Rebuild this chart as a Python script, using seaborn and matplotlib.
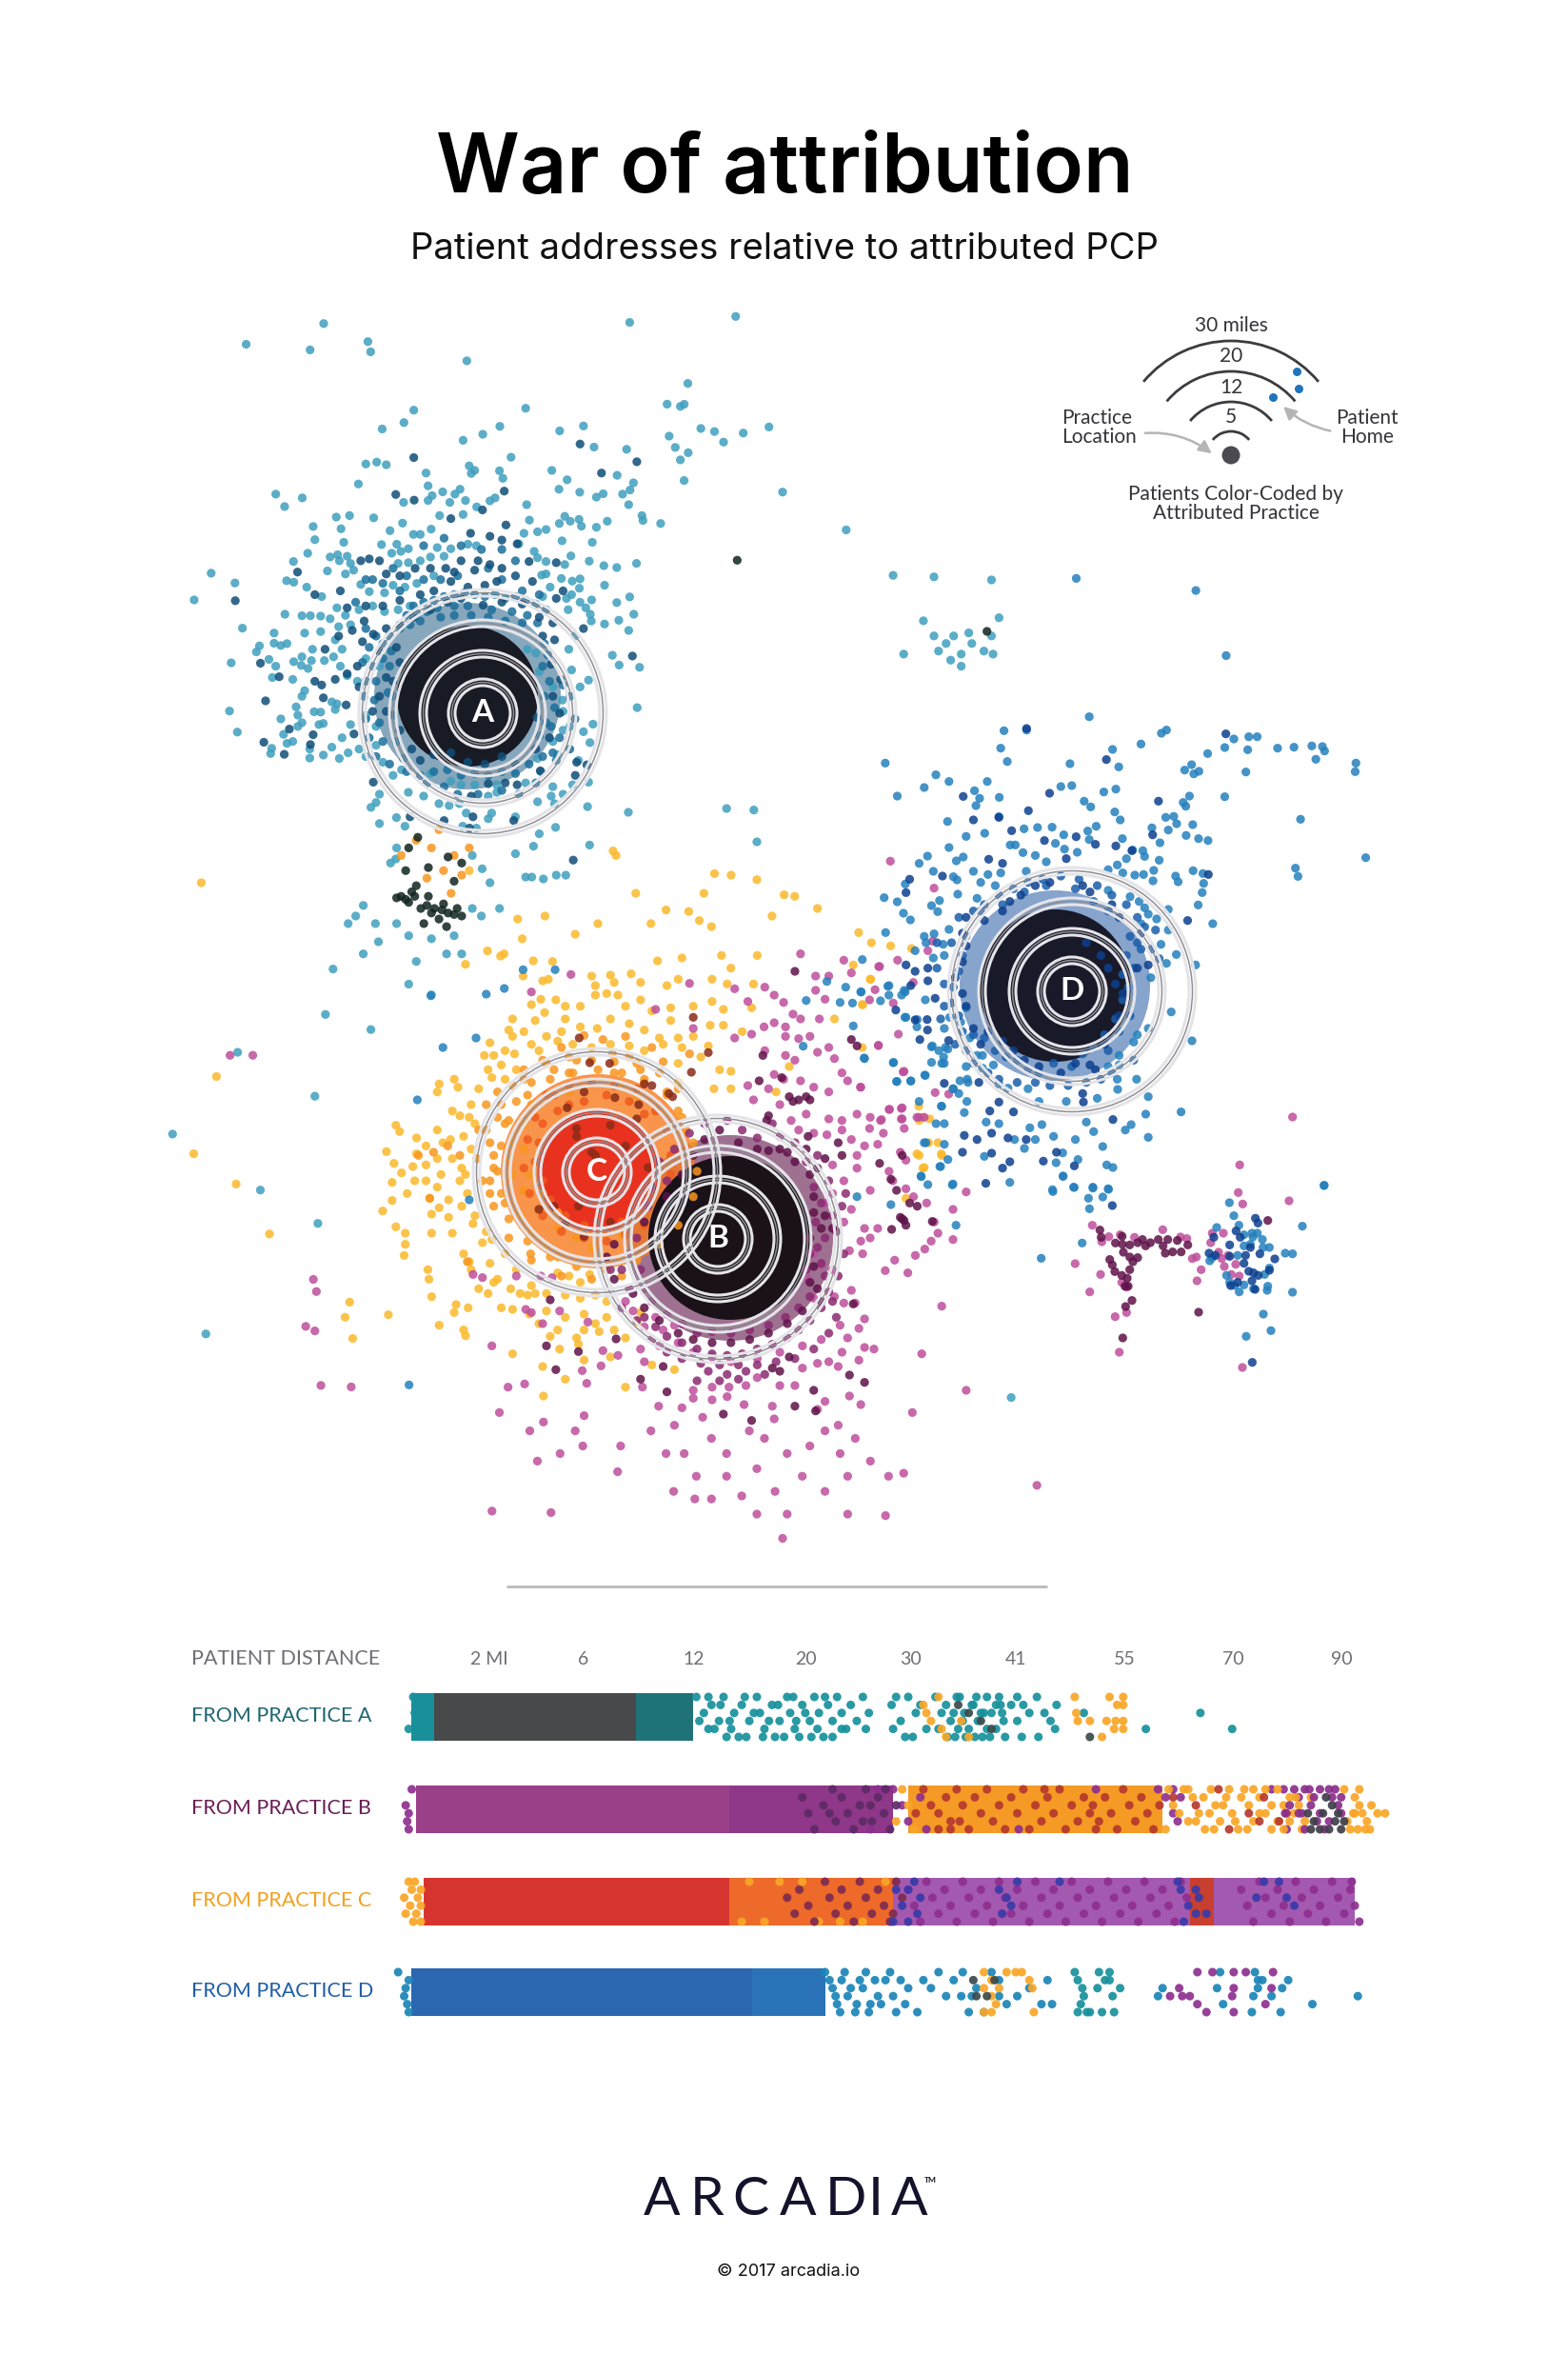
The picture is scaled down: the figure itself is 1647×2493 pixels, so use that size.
import numpy as np
import pandas as pd
import seaborn as sns
from matplotlib import pyplot as plt
from matplotlib.patches import Arc, Circle, FancyArrowPatch

# puntos leidos a ojo de la imagen, cada lista en las unidades del recorte donde se leyo
A_LIGHT = [(248,105),(476,50),(436,120),(606,98),(614,125),(897,149),(1376,47),(1547,209),(1486,264),(1525,270),(741,280),(1070,275),(712,313),(648,330),(994,323),(944,344),(886,360),(1170,335),(1240,322),(1271,378),(1367,384),(1492,349),(1510,379),(1548,393),(1525,412),(1536,467),(1027,405),(904,428),(920,440),(910,448),(993,441),(1003,461),(777,447),(600,423),(632,418),(660,425),(1147,440),(1192,465),(1339,453),(1387,473),(1377,492),(1355,503),(1298,502),(1278,511),(1229,498),(1168,490),(578,476),(783,481),(826,497),(795,507),(783,520),(711,525),(877,490),(862,503),(847,525),(893,520),(980,513),(965,521),(926,537),(1073,531),(1373,531),(335,503),(413,513),(361,536),(1412,560),(1415,573),(1467,581),(513,564),(552,560),(623,566),(445,589),(708,580),(527,595),(817,560),(886,557),(1185,562),(1227,570),(1169,581),(1201,575),(1234,588),(1278,591),(1310,575),(1081,572),(671,600),(450,624),(535,631),(792,596),(740,610),(760,610),(1105,603),(1130,597),(1177,627),(1266,631),(429,660),(646,637),
    (495,670),(517,664),(545,668),(522,680),(555,687),(387,682),(487,707),(564,705),(691,636),(676,660),(703,655),(725,648),(695,687),(725,685),(760,680),(810,645),(790,670),(830,668),(850,648),(900,636),(925,640),(1050,635),(1065,607),(1095,655),(1105,672),(1130,682),(1185,690),(1203,667),(1257,681),(1300,693),(1338,698),(1396,687),(145,713),(215,739),(367,733),(388,737),(426,750),(470,775),(540,715),(585,743),(610,762),(655,765),(680,745),(715,750),(750,740),(800,720),(1130,715),(1175,727),(1207,734),(1230,728),(1228,753),(1302,745),(1142,750),(1117,718),(1120,775),(1205,770),(1264,784),(1338,791),(1376,776),(95,784),(1190,780),
    (362,822),(412,826),(437,826),(467,827),(495,834),(515,805),(540,825),(580,810),(620,800),(655,815),(695,810),(730,800),(237,859),(1230,790),(1247,805),(1260,822),(1263,840),(1195,810),(1388,822),(1344,838),(1302,848),(1373,865),(330,872),(420,872),(467,868),(520,855),(555,850),(287,906),(278,922),(330,899),(350,905),(368,900),(443,915),(478,945),(440,945),(412,935),(388,948),(410,958),(430,966),(315,942),(204,951),(335,960),(325,990),(385,995),(510,890),(530,915),(505,935),(525,960),(545,985),(575,1000),(600,940),(640,960),(1197,915),(1215,880),(1325,931),(1345,957),(1405,963),(1255,997),(1230,1015),(1150,1015),(1100,925),(1075,915),(1110,975),(1205,970),
    (420,1025),(412,1040),(500,1055),(515,1060),(395,1068),(400,1090),(448,1081),(467,1082),(510,1075),(350,1100),(412,1110),(400,1120),(462,1115),(475,1112),(555,1115),(199,1079),(222,1135),(358,1141),(385,1160),(368,1165),(323,1178),(320,1192),(435,1180),(435,1204),(475,1196),(500,1175),(522,1205),(548,1190),(580,1180),(530,1150),(600,1090),(630,1120),(1398,1070),(1268,1114),(1240,1134),(1180,1130),(1200,1120),(1259,1163),(1178,1050),(1180,1080),(1150,1160),(1165,1195),(600,1200),(650,1215),(630,1170),(680,1250),(705,1235),(790,1245),(725,1295),(770,1305),(640,1300),(630,1322),(615,1335),(850,1265),(880,1275),(920,1275),(1070,1270),(985,1275),(815,1325),(845,1330),(875,1325),(960,1305),(985,1295),(1105,1205),(1115,1240),(1150,1280),(1180,1300),(1145,1305),(1155,1325),(1105,1320),(1252,1333),(1372,1348),(1208,1275),(1255,1268),(1225,1210),(690,1362),(715,1385),(640,1378),(895,1350),(885,1385),(970,1350),(960,1365),(925,1390),(1040,1360),(1110,1405),(1158,1388),(1258,1435),(1093,1438),(1040,1458),(1070,1520),(1088,1520),(1122,1525),(1160,1515),(1188,1515),(942,1498),(965,1535),(688,1472)]
A_MID = [(740,800),(770,790),(800,785),(830,775),(860,770),(890,765),(920,770),(950,775),(980,770),(1010,780),(1040,775),(1070,785),(1100,795),(1130,810),(720,825),(750,820),(780,815),(810,805),(860,800),(900,800),(970,810),(1030,815),(1075,825),(1105,845),(700,860),(730,850),(760,840),(820,830),(860,825),(910,825),(960,830),(1010,840),(1060,845),(600,860),(630,880),(670,880),(610,910),(650,900),(675,920),(590,950),(620,960),(650,940),(670,960),(600,1000),(630,1000),(680,1040),(595,1040),(625,1050),(665,1030),(600,1100),(640,1110),(680,1090),(610,1150),(650,1160),(690,1160),(630,1200),(670,1220),(710,1205),(720,1240),(760,1250),(800,1240),(840,1235),(880,1250),(920,1245),(960,1250),(1000,1240),(1040,1245),(1080,1220),(1120,1200),(1150,1190),(780,1270),(830,1280),(870,1300),(930,1300),(1000,1290),(1050,1300),(1100,1270),(1125,900),(1135,930),(1120,960),(1140,1000),(1125,1040),(1155,1070),(1130,1110),(1110,1145),(1145,1120),(1170,1150),(1180,1010),(1200,1040),(1215,1100),(1160,1210),(1200,1180),(700,760),(650,740),(620,730),(570,790),(680,700),(770,640),(830,620),(880,640),(940,650),(1000,650),(1040,680),(870,720),(820,730),(770,730),(1000,730),(1060,760),(1110,770),(960,700),(720,720),(600,730)]
A_DARK = [(741,406),(1230,370),(1293,447),(1397,417),(1007,495),(688,504),(742,519),(943,545),(850,568),(908,607),(1012,585),(965,615),(1000,625),(1045,635),(1080,682),(880,680),(930,680),(965,690),(920,705),(860,710),(835,700),(790,700),(745,700),(700,720),(660,715),(585,680),(610,675),(640,680),(525,760),(450,770),(216,786),(399,710),(1160,685),(1160,780),(1180,760),(1090,735),(1040,720),(1000,700),(985,735),(950,745),(900,750),(850,735),(800,760),(760,770),(700,785),(650,800),(600,800),(545,805),(595,840),(560,865),(520,880),(622,875),(590,895),(660,860),(700,850),(740,830),(790,810),(840,790),(880,780),(945,798),(1000,790),(1060,795),(1110,830),(1150,845),(1155,890),(1120,880),(1240,860),(1384,933),(1145,955),(1173,995),(480,915),(290,952),(345,988),(450,1000),(470,1010),(510,995),(545,980),(305,1052),(475,1044),(542,1063),(375,1127),(445,1142),(565,1140),(300,1162),(437,1168),(360,1194),(575,960),(580,1015),(640,920),(690,910),(700,950),(660,990),(640,1040),(620,1080),(660,1080),(700,1130),(680,1000),(735,1180),(760,1210),(800,1195),(850,1190),(900,1215),(950,1220),(1000,1200),(1040,1220),(1100,1180),(1140,1150),(1103,1096),(1150,1040),(1170,1085),(1220,1215),(1250,1222),(1216,1250),(622,1268),(910,1305),(960,1272),(1010,1270),(1045,1275),(1113,1238),(1035,1370),(915,1360),(905,1390),(830,1370),(730,1360),(1210,1475)]

C_YELLOW = [(318,12),(405,27),(225,38),(378,75),(430,90),(445,85),(560,75),(610,72),(665,68),(690,95),(735,27),(800,18),(905,10),(930,50),(1000,10),(880,85),(920,100),(990,100),(620,95),(570,105),(760,105),(790,85),(400,165),(425,148),(465,150),(490,170),(435,190),(410,215),(490,210),(530,170),(570,135),(600,130),(630,135),(650,170),(690,150),(720,185),(770,175),(770,215),(830,170),(880,155),(910,180),(985,175),(875,230),(910,230),(960,250),(340,245),(350,265),(290,285),(300,325),(275,325),(330,310),(355,320),(320,355),(360,370),(285,370),(295,395),(400,290),(440,265),(480,250),(530,235),(575,240),(610,210),(660,225),(700,245),(740,270),(790,270),(830,265),(870,295),(790,350),(900,370),(930,375),(790,410),(885,430),(930,430),(155,415),(195,400),(150,440),(205,425),(190,500),(210,515),(235,520),(40,545),(50,565),(95,585),(120,610),(165,600),(185,590),(95,635),(15,628),(35,665),(55,695),(85,675),(120,670),(150,650),(190,650),(215,680),(30,725),(210,720),(150,740),(30,782),(5,815),(130,775),(155,805),(135,825),(180,835),(215,800),(40,865),(65,885),(135,885),(65,920),(62,955),(190,885),(245,855),(270,915),(220,950),(295,905),(235,975),(290,980),(125,1000),(128,1030),(135,1085),(200,1110),(195,1135),(232,1120),(20,1142),(155,1175),(220,1190),(225,1208),(320,1120),(350,1125),(345,1060),(370,1075),(390,1080),(410,1075),(285,1075),(470,1010),(500,1020),(530,1040),(555,1015),(395,1140),(440,1130),(490,1150),(540,1140),(570,1170),(450,1210),(520,1215),(525,1235),(580,1195),(650,1215),(610,1275),(350,1265),(475,1250),(430,1305),(490,1345),(650,1370),(432,1398),(540,1285),(720,1300),(780,1315),(690,1135),(680,1165),
    (350,210),(380,250),(420,310),(470,280),(510,290),(560,300),(610,290),(660,295),(700,310),(750,290),(800,300),(850,330),(330,400),(260,430),(240,480),(250,540),(220,580),(240,620),(225,700),(230,760),(250,830),(280,880),(330,950),(360,1000),(310,1030),(400,1050),(440,1075),(490,1080),(530,1090),(570,1080),(600,1100),(420,1170),(470,1190),(540,1190),(600,1150),(620,1190),(150,560),(120,720),(90,720),(70,760),(160,700),(180,780),(240,1000),(260,1060),(300,1040)]
C_ORANGE = [(540,262),(590,275),(650,265),(480,300),(430,340),(380,370),(350,420),(310,440),(280,480),(310,520),(260,560),(290,600),(255,650),(300,680),(270,720),(290,760),(330,790),(370,830),(400,880),(440,930),(470,960),(398,950),(230,975),(130,775),(210,640),(178,610),(140,630),(100,640),(615,320),(660,330),(720,300),(750,345),(820,320),(690,370),(520,340),(460,370),(400,410),(360,470),(330,540),(350,600),(340,650),(350,700),(380,750),(420,810),(470,870),(520,900),(560,930),(640,890),(700,860),(640,420),(700,410),(760,440),(790,500),(810,560),(400,480),(380,540),(380,620),(395,700),(430,760),(470,820),(500,440),(560,410),(620,380),(680,450),(500,380),
    (577,370),(640,380),(700,400),(760,450),(800,520),(830,600),(840,690),(830,770),(790,860),(740,920),(680,970),(600,1000),(520,990),(450,960),(390,910),(340,840),(320,760),(310,690),(320,610),(340,530),(390,450),(450,400),(510,380),(560,340),(620,345),(680,350),(740,380),(790,430),(300,640),(290,720),(300,800),(340,900),(400,970),(480,1020),(560,1030),(640,1020),(280,560),(320,480),(380,400),(440,350),(500,330)]
C_DEEP = [(440,450),(500,480),(540,470),(600,450),(660,470),(700,510),(430,540),(420,600),(410,660),(430,720),(450,780),(490,830),(540,860),(590,880),(640,850),(680,820),(470,500),(620,510),(460,450),(410,520),(390,590),(380,680),(395,760),(430,830),(480,880),(540,900),(600,910),(650,890),(700,860),(500,420),(560,410),(620,420),(680,430),(730,500),(760,560),(770,640),(770,700)]
C_BROWN = [(527,270),(555,348),(608,350),(540,440),(622,458),(495,490),(520,555),(520,580),(610,545),(685,480),(680,525),(650,610),(560,630),(570,640),(710,678),(525,800),(460,800),(420,810),(490,855),(610,850),(540,895),(720,420),(700,415),(765,445),(775,455),(825,378),(870,316),(830,205)]
B_LIGHT = [(505,70),(400,125),(820,98),(730,180),(940,115),(1115,5),(1230,25),(1325,45),(1155,75),(1190,75),(1250,65),(1045,135),(1070,158),(1020,110),(975,155),(1155,120),(1180,148),(1095,195),(1115,210),(1165,210),(1045,222),(1018,235),(1075,235),(985,258),(1140,265),(1110,272),(1075,265),(1322,293),(1190,300),(1205,335),(1160,315),(1075,325),(1100,340),(1020,310),(830,240),(940,270),(1045,385),(1070,400),(975,420),(1030,430),(1115,405),(1150,425),(1190,440),(1225,380),(1275,425),(1240,405),(1390,375),(1350,495),(1385,490),(1430,520),(1265,510),(1300,520),(1330,527),(1385,525),(1225,530),(1190,525),(1130,510),(1090,530),(1110,560),(990,465),(1060,480),(1150,570),(1185,575),(1225,560),(1250,590),(1285,610),(1320,605),(1335,570),(1380,630),(1395,655),(1265,640),(1265,680),(1300,750),(1350,690),(1360,720),(1395,745),(1415,770),(1520,810),(1555,755),(1450,790),(1470,850),(1480,885),(1520,905),(1285,870),(1320,870),(1275,910),(1300,900),(1245,940),(1280,950),(1365,970),(1340,1003),(1400,1010),(1420,955),(1445,935),(1462,910),(1200,670),(1230,720),(1200,760),(1180,790),(1250,810),(1230,850),(1150,950),(1170,985),(1200,1000),(1135,1030),(1250,1065),(1260,1105),(1230,1105),(1285,1155),(1270,1185),(1490,1115),(1205,1085),(1150,1090),(1240,1215),(1220,1175),(1285,1245),(1310,1250),(1225,1260),(1270,1285),(1215,1305),(1437,1265),(1412,1450),(1555,1380),(1275,1425),(1245,1398),(1190,1290),(1160,1295),(1120,1310),(1100,1365),(1060,1365),(1000,1340),(970,1365),(925,1370),(880,1370),(830,1380),(738,1430),(800,1435),(830,1405),(880,1410),(920,1400),(965,1425),(1040,1430),(1160,1440),(1180,1415),(855,1465),(780,1490),(1045,1470),(1215,1490),(315,1450),(432,1480),(540,1460),(338,1370),(382,1360),(547,1358),(535,1318),(585,1303),(695,1370),(295,1240),(245,1015),(270,1025),(360,1020),(425,1020),(455,1025),(385,1125),(400,1135),(430,1170),(475,1130),(550,1165),(590,1255),(630,1270),(690,1250),(700,1290),(740,1240),(790,1230),(830,1260),(880,1275),(930,1290),(1000,1280),(1060,1260),(1120,1240),(1170,1220),(700,1180),(750,1190),(650,1100),(670,1130),(730,1150),(780,1175)]
B_MID = [(700,1150),(730,1180),(760,1210),(800,1230),(840,1250),(880,1265),(920,1270),(960,1265),(1000,1250),(1040,1235),(1080,1215),(1110,1190),(1140,1160),(1170,1120),(1190,1070),(1180,1020),(1170,980),(1160,930),(1180,900),(1155,850),(1200,830),(1170,790),(1150,740),(1190,720),(1130,660),(1160,640),(1100,600),(1060,580),(1000,585),(1040,540),(960,560),(920,530),(860,540),(820,570),(780,620),(740,660),(760,720),(720,740),(710,800),(680,900),(660,950),(690,1000),(640,1000),(660,1060),(700,1060),(720,1100),(760,1140),(800,1170),(840,1200),(880,1195),(930,1200),(980,1190),(1030,1175),(1075,1150),(1110,1120),(1140,1085),(1130,1000),(1140,950),(610,1000),(640,1120),(680,1160),(720,1220),(760,1260),(800,1280),(850,1295),(900,1300),(950,1300),(1000,1300),(1050,1290),(1100,1280),(1150,1250),(1190,1200),(1210,1150),(1200,1100),(1215,1020),(1230,950),(1210,880),(1225,800),(1235,760),(870,1320),(920,1330),(970,1320),(1020,1330),(840,1350),(900,1350),(950,1345)]
B_DARK = [(1100,60),(1250,275),(1265,295),(1015,325),(1065,395),(1005,405),(1085,455),(1110,465),(1130,455),(1140,465),(1095,470),(1030,515),(1025,530),(1135,580),(1215,600),(1060,620),(1030,625),(1080,630),(1100,660),(1160,680),(1180,650),(1225,640),(1325,665),(1385,640),(1355,715),(1370,750),(1390,845),(1380,835),(1395,860),(1405,790),(1425,800),(1465,848),(1150,820),(1180,830),(1170,870),(1200,870),(1140,900),(1150,990),(1140,1040),(1160,1060),(1170,1100),(1120,1130),(1080,1170),(1030,1200),(980,1220),(930,1230),(880,1230),(830,1220),(790,1200),(740,1160),(700,1120),(670,1075),(620,1030),(600,960),(620,920),(700,850),(760,770),(800,700),(830,640),(860,590),(900,560),(950,600),(1000,620),(1130,620),(1140,700),(1150,770),(1085,1275),(1040,1310),(1060,1320),(1150,1380),(1155,1445),(1100,1430),(1245,1332),(1285,1355),(1255,1108),(625,1218),(440,1240),(525,1258),(465,1315),(450,1095),(760,1385),(985,1475),(910,1455),(750,1305),(690,1345),(1385,840),(1357,873)]
BC_BLUE = [(133,137),(280,132),(328,114),(378,55),(463,55),(253,270),(165,300),(97,465),(235,780),(75,1363),(1185,92),(1235,110),(1275,125),(1130,152),(1220,158),(1253,160),(1255,232),(1122,296),(1285,335),(1362,347),(1370,407),(1408,405),(1445,387),(1430,470),(1490,485),(1475,540),(1448,600),(1497,605),(1485,675),(1435,705),(1520,730),(1265,770),(1355,795),(1528,860),(1393,125),(1350,105),(1395,205),(1425,212),(1465,295),(1500,300),(1490,350),(1495,330),(1520,430),(1560,410)]
BC_YELLOW = [(1430,530),(1455,600),(1490,640),(1430,640),(1440,680),(1480,600),(1395,775),(1280,165),(1205,210),(1300,85),(1255,40),(1050,440),(1085,360),(1440,520)]

D_LIGHT = [(404,52),(466,50),(638,8),(395,107),(413,149),(78,154),(702,111),(780,94),(836,60),(850,50),(1010,105),(1035,78),(1076,71),(1099,71),(1073,112),(1155,107),(1200,104),(1249,100),(1278,102),(1284,116),(1260,142),(1370,154),(1368,181),(963,124),(719,166),(585,156),(900,176),(919,159),(925,188),(939,180),(1068,182),(217,191),(253,212),(358,212),(185,231),(111,258),(323,241),(337,265),(391,262),(327,288),(560,228),(590,225),(678,245),(711,236),(624,274),(642,292),(708,308),(723,333),(896,278),(903,290),(913,258),(1010,260),(1218,331),(848,325),(870,322),(878,345),(855,365),(810,358),(922,348),(904,382),(938,392),(964,398),(832,405),(249,338),(390,323),(351,375),(300,385),(459,361),(496,357),(536,356),(568,380),(634,368),(657,353),(638,395),(729,392),(253,420),(194,447),(171,470),(273,462),(292,450),(421,412),(435,412),(456,436),(490,445),(545,407),(570,425),(605,435),(757,428),(785,430),(740,455),(790,448),(830,460),(715,475),(1397,452),(210,495),(265,512),(275,522),(320,495),(360,505),(340,530),(395,500),(465,495),(520,465),(690,490),(730,500),(763,507),(787,505),(815,492),(813,525),(875,510),(882,528),(923,493),(950,502),(952,533),(948,562),(937,601),(1204,485),(1211,511),(133,535),(111,591),(75,578),(227,587),(205,603),(222,622),(277,567),(128,627),(147,648),(330,580),(380,540),(690,555),(750,575),(775,590),(790,610),(855,615),(800,630),(823,645),(855,680),(835,725),(780,660),(977,660),(79,688),(185,700),(212,692),(253,678),(190,720),(237,725),(160,745),(210,768),(240,760),(15,773),(877,757),(850,785),(930,790),(807,830),(863,938),(920,1029),(800,990),(770,1010),(760,1033),(12,875),(85,857),(123,885),(130,870),(65,903),(88,885),(188,900),(132,955),(165,985),(240,990),(255,955),(300,925),(285,970),(720,1075),(100,1098),(20,1083),(205,1097),(240,1100),(225,1060),(205,1048),(250,1055),(310,1020),(330,1075),(300,1110),(345,1115),(375,1105),(188,1138),(110,1157),(148,1156),(283,1155),(303,1150),(265,1180),(280,1195),(302,1220),(232,1235),(295,1255),(355,1285),(390,1290),(475,1303),(508,1293),(630,1285),(650,1315),(737,1310),(753,1293),(800,1333),(793,1260),(890,1253),(675,1362),(433,1340),(540,1330),(490,1340),(600,1340),(460,1368),(350,1393),(250,1403),(230,1425),(240,1290),(185,1350),(565,1382),(547,1413),(607,1403),(686,1420),(703,1428),(566,1455),(177,1457),(195,1482),(262,1483),(420,1475),(1283,1484),(595,1490),(648,1490),(690,1495),(537,1498),(768,1150),(716,1182),(660,1210),(575,1220),(500,1220),(470,1180),(415,1178),(390,1165),(800,1205),(715,1150),(720,1105),(690,1110),(345,1075)]
D_MID = [(280,640),(320,620),(350,600),(390,570),(430,550),(470,530),(510,520),(560,510),(610,520),(660,540),(700,570),(740,600),(770,640),(790,670),(750,700),(780,740),(740,760),(760,800),(730,820),(745,860),(730,900),(750,950),(710,960),(720,1000),(680,1010),(690,1060),(650,1050),(620,1070),(590,1110),(540,1100),(500,1130),(470,1120),(440,1090),(410,1080),(380,1060),(350,1020),(320,1010),(290,1000),(280,950),(260,910),(265,860),(280,810),(290,760),(260,720),(300,700),(340,620),(400,600),(460,560),(520,540),(600,550),(650,590),(690,620),(220,720),(220,800),(240,850),(240,920),(230,960),(270,1040),(300,1060),(320,1100),(360,1130),(390,1150),(440,1160),(490,1160),(530,1170),(580,1170),(630,1160),(670,1150),(700,1130),(760,1090),(770,720),(820,680),(830,770),(810,740)]
D_DARK = [(466,45),(685,143),(1013,62),(529,249),(292,259),(471,304),(828,274),(320,333),(390,325),(425,367),(515,398),(602,386),(655,410),(711,415),(812,380),(362,457),(400,470),(235,510),(145,520),(135,562),(755,430),(575,455),(490,540),(450,570),(420,590),(400,620),(350,650),(300,640),(530,530),(620,540),(640,560),(700,600),(720,640),(780,690),(800,790),(770,800),(908,650),(965,505),(290,690),(300,730),(290,780),(270,830),(290,880),(300,920),(320,990),(340,1040),(360,1000),(400,1030),(430,1060),(460,1090),(500,1110),(560,1130),(600,1100),(640,1105),(655,1120),(680,1040),(720,950),(730,880),(710,850),(690,800),(670,760),(630,720),(135,790),(160,810),(195,800),(195,840),(148,855),(215,895),(160,963),(193,962),(194,995),(173,1025),(252,1028),(240,1163),(335,1160),(390,1222),(430,1253),(365,1250),(622,1222),(620,1195),(703,1277),(295,1327),(330,1340),(370,1320),(415,1335),(290,1380),(370,1383),(465,1340),(512,1408),(548,1380),(597,1423),(400,1430),(354,1478),(420,1410),(107,932)]
D_PINK = [(92,463),(212,548),(208,715),(195,745),(112,775),(60,795),(35,900),(50,868),(155,845),(100,910),(114,1008),(59,1044),(127,1127),(215,1192),(252,1197),(90,1245),(122,1242),(65,1280),(122,1275),(165,1270),(185,1270),(130,1305),(35,1305),(1196,1269),(1051,1420),(10,1175)]
D_YELLOW = [(40,720),(93,730),(38,835),(5,688),(15,915),(15,1050),(165,1385),(232,1385),(200,1275),(170,1235),(185,1428),(150,738)]

SAT_BLUE = [(110,16),(78,64),(145,51),(204,53),(253,57),(190,85),(235,81),(193,118),(170,226),(41,274),(932,45),(634,99),(648,140),(594,177),(664,170),(864,173),(680,200),(705,195),(722,195),(738,215),(708,207),(660,265),(572,282),(580,272),(740,240),(760,240),(810,258),(833,260),(760,305),(745,325),(625,328),(635,350),(680,358),(755,362),(753,375),(665,380),(833,381),(741,450),(765,502),(687,520),(700,230),(680,235),(650,360),(710,370)]
SAT_NAVY = [(265,108),(716,148),(724,163),(668,208),(635,232),(570,258),(585,208),(730,260),(777,276),(685,265),(700,240),(680,290),(695,315),(710,320),(725,328),(760,312),(705,345),(660,350),(638,360),(715,372),(706,602),(635,268),(590,265),(655,188)]
SAT_PINK = [(662,67),(676,103),(822,93),(202,170),(232,222),(254,206),(290,200),(335,208),(424,184),(480,207),(500,212),(530,270),(517,275),(545,310),(532,345),(148,291),(228,325),(194,380),(274,458),(310,445),(287,570),(675,618),(615,195),(580,195),(575,225),(600,255),(610,275),(618,300),(654,293),(640,325),(665,330),(630,265),(295,350),(310,365)]
SAT_MAROON = [(226,185),(230,208),(296,205),(275,226),(297,230),(320,232),(345,225),(360,215),(370,235),(385,225),(410,215),(425,235),(440,215),(470,218),(503,232),(482,254),(455,254),(432,258),(300,255),(320,270),(345,272),(330,285),(257,278),(265,295),(273,316),(320,310),(312,337),(295,328),(305,362),(315,362),(327,407),(307,426),(298,525),(537,444),(755,155)]

# estos en la vista general de la imagen
OUT_TEAL = [(235,605),(248,610),(240,630),(250,622),(262,610),(270,618),(285,620),(300,618),(312,600),(318,605),(305,630),(258,570),(262,560),(240,598),(230,610),(330,600),(295,630),(312,565),(275,635),(617,420),(625,425),(630,420),(640,418),(655,420),(635,432),(642,425),(620,430),(628,436),(650,430),(656,432),(635,440),(597,432),(610,410),(590,380),(617,381),(655,383),(660,408),(463,283),(472,285),(478,292),(491,286),(452,267),(508,282),(517,325),(486,209),(559,350),(480,534),(498,535),(500,556),(114,749),(172,786),(157,695),(136,881),(208,724),(210,808),(245,680),(270,650),(285,657),(220,640),(215,670),(668,923)]
OUT_BLUE = [(711,382),(790,390),(810,433)]
OUT_DARK = [(262,593),(270,596),(278,600),(285,603),(293,597),(300,604),(283,592),(272,589),(290,607),(275,585),(280,610),(295,612),(268,575),(283,573),(296,566),(305,570),(300,582),(270,560),(276,553),(652,417),(487,370),(265,592),(268,594),(274,592),(282,598),(287,600),(292,601),(296,603),(305,605),(302,600)]
OUT_ORANGE = [(275,555),(285,560),(293,575),(300,565),(310,560),(290,548),(305,578),(265,565),(282,580),(298,590)]
OUT_YELLOW = [(133,583),(143,711),(128,762),(156,782),(178,815),(231,860),(233,884),(228,870),(405,562),(407,565),(465,590),(472,577),(483,578),(500,581),(518,591),(525,592),(440,601),(455,602),(462,608),(430,610),(510,605),(540,600),(395,610),(470,612),(420,590),(342,607),(345,620),(380,617),(360,605),(333,630),(322,628),(365,635),(310,575)]
OUT_PINK = [(152,697),(167,697),(207,845),(209,853),(202,876),(208,879),(232,916),(212,915),(325,998),(364,999),(459,990),(517,1016),(560,1000),(585,1001),(587,975),(597,973),(685,981),(430,945),(440,960),(452,960),(470,950),(480,960),(495,945),(505,950),(520,960),(535,955),(545,945),(565,950),(575,965),(500,970),(480,975),(460,975),(445,985),(470,990),(490,988),(512,985),(530,975),(545,985),(560,975),(520,1000),(500,1000),(555,960),(410,955),(408,972),(380,945),(385,955),(355,965),(350,945),(370,960)]

PRACTICES = ["A", "B", "C", "D"]
RING_X = [507, 754, 627, 1126]
RING_Y = [749, 1301, 1231, 1041]
RING_R = [36, 66, 98, 130]
CORE_X = [491, 767, 628, 1108]
CORE_Y = [731, 1300, 1230, 1035]
CORE_R = [74, 86, 64, 80]
HALO_R = [98, 108, 102, 100]
CORE_COLOR = ["#181a24", "#1b1219", "#e8321f", "#181a2a"]
HALO_COLOR = ["#11507a", "#5e1248", "#f8791e", "#0f4a9a"]
HALO_ALPHA = [0.5, 0.6, 0.8, 0.5]

TICK_LABELS = ["2 MI", "6", "12", "20", "30", "41", "55", "70", "90"]
TICK_X = [514, 613, 729, 846, 957, 1067, 1181, 1295, 1409]
ROW_NAMES = ["FROM PRACTICE A", "FROM PRACTICE B", "FROM PRACTICE C", "FROM PRACTICE D"]
ROW_COLORS = ["#1f6672", "#6b1f58", "#f3a01f", "#1f5ea8"]
ROW_TOP = [1778, 1875, 1972, 2067]

# tramos macizos de cada fila: fila, desde, hasta (vista general), color, alpha
BAND_ROW = [0, 0, 0, 1, 1, 1, 2, 2, 2, 2, 3, 3]
BAND_FROM = [272, 287, 420, 275, 482, 600, 280, 482, 590, 786, 272, 497]
BAND_TO = [287, 420, 458, 482, 590, 768, 482, 590, 895, 802, 497, 545]
BAND_COLOR = ["#17909c", "#47494b", "#1f7378", "#9a4088", "#8f3788", "#f59a24", "#d6352f", "#ee6a2a", "#8c2f9c", "#c93f2f", "#2a67b0", "#2a73b8"]
BAND_ALPHA = [1, 1, 1, 1, 1, 1, 1, 1, 0.8, 1, 1, 1]

S_A_TEAL = [(270,4),(273,0),(274,2),(460,0),(465,2),(470,1),(468,4),(475,3),(480,5),(478,0),(485,2),(483,4),(490,1),(495,3),(493,5),(500,0),(502,2),(505,4),(510,1),(512,5),(515,3),(520,0),(522,2),(525,4),(530,1),(528,5),(535,3),(538,0),(541,2),(544,5),(547,1),(550,3),(553,0),(556,2),(559,4),(562,1),(566,3),(570,0),(574,2),(572,4),(589,1),(592,0),(590,4),(595,3),(598,5),(600,0),(605,2),(608,1),(603,5),(612,4),(618,0),(622,2),(625,1),(628,3),(631,5),(634,0),(637,2),(640,4),(643,1),(646,3),(649,5),(652,0),(655,2),(658,4),(661,1),(663,3),(664,5),(620,4),(630,2),(645,0),(650,2),(660,0),(633,4),(638,5),(668,1),(672,0),(676,1),(680,2),(672,3),(685,0),(690,2),(694,3),(698,1),(697,4),(686,5),(675,5),(793,2),(814,4),(757,4),(716,2),
    (462,3),(468,0),(472,4),(476,1),(482,3),(488,5),(492,0),(498,2),(504,5),(508,3),(514,1),(518,5),(524,0),(526,3),(532,2),(536,5),(540,4),(545,0),(550,5),(556,4),(626,5),(632,0),(636,3),(642,1),(648,2),(654,5),(658,1),(662,2),(644,5),(652,4)]
S_A_ORANGE = [(710,0),(733,0),(742,0),(742,1),(738,1),(711,2),(720,3),(742,3),(712,3),(731,3),(737,3),(728,5),(736,4),(742,4),(612,2),(615,3),(622,4),(625,5),(620,0),(635,3),(640,5),(610,1)]
S_A_DARK = [(720,5),(640,2),(648,3),(655,4),(633,1)]
S_B_PURPLE = [(268,2),(270,3),(269,4),(272,0),(270,5),(590,0),(596,2),(600,4),(608,1),(612,5),(575,5),(580,0),(724,0),(673,5),(765,0),(770,1),(775,0),(780,1),(775,3),(778,4),(840,0),(848,0),(858,1),(850,5),(860,3),(865,0)]
S_B_DARK = [(530,1),(534,3),(538,5),(544,2),(550,0),(552,4),(556,1),(560,3),(564,5),(568,2),(572,0),(576,4),(580,1),(584,3),(588,5),(592,2),(548,3),(570,4),(575,2),(585,0)]
S_B_RED = [(605,3),(610,0),(615,2),(620,5),(625,1),(628,4),(632,0),(620,3),(636,2),(640,5),(644,1),(648,3),(628,5),(634,4),(652,0),(656,4),(660,2),(664,5),(668,1),(672,3),(676,0),(680,5),(684,2),(688,4),(692,1),(696,3),(700,0),(704,5),(708,2),(690,0),(712,4),(716,1),(720,3),(724,5),(722,2),(726,4),(730,1),(734,3),(738,5),(742,0),(746,2),(750,4),(754,1),(758,3),(762,5),(766,2),(775,1),(790,2),(805,0),(812,5),(825,3),(835,1),(845,4),(850,3),(832,4)]
S_B_ORANGE = [(770,5),(775,2),(782,0),(785,4),(788,1),(792,3),(796,5),(800,0),(803,2),(806,4),(810,1),(814,3),(818,5),(822,0),(825,2),(828,4),(832,1),(836,3),(840,5),(844,0),(848,2),(852,4),(856,1),(860,5),(895,1),(898,0),(900,3),(903,4),(906,2),(910,3),(915,3),(892,5),(897,5),(902,5),(898,2),(894,3),(888,0),(890,4),(596,0),(592,4),(604,5),(600,2),
    (772,0),(779,3),(785,0),(790,4),(795,1),(799,3),(802,5),(808,2),(812,0),(816,4),(820,1),(824,5),(828,0),(832,3),(836,0),(840,2),(844,4),(848,5),(852,1),(855,3),(858,2),(862,4),(866,1),(895,3),(905,5)]
S_B_VIOLET = [(855,0),(862,0),(868,1),(872,0),(878,0),(882,0),(886,1),(866,2),(872,3),(878,4),(884,2),(858,3),(862,5),(875,5),(880,1),(870,4),(886,3),(852,2),(849,3)]
S_B_GREY = [(868,4),(874,3),(878,5),(882,4),(886,5),(872,5),(884,3),(880,2),(876,1),(866,5),(888,4),(864,3)]
S_C_ORANGE = [(267,2),(270,0),(268,4),(272,1),(271,3),(273,5),(274,0),(276,2),(275,4),(278,1),(278,3),(278,5),(490,5),(495,0),(505,5),(515,0),(530,0),(541,5),(555,5),(570,5),(585,0)]
S_C_BROWN = [(520,2),(525,4),(528,1),(534,3),(538,5),(545,0),(548,2),(552,4),(556,1),(560,3),(564,5),(568,0),(572,2),(576,4),(580,1),(584,3),(588,5),(592,0),(596,2),(590,4)]
S_C_PURPLE = [(600,1),(604,3),(608,5),(612,0),(616,2),(620,4),(624,1),(628,3),(632,5),(636,0),(640,2),(644,4),(648,1),(652,3),(656,5),(660,0),(664,2),(668,4),(672,1),(676,3),(680,5),(684,0),(688,2),(692,4),(696,1),(700,3),(704,5),(708,0),(712,2),(716,4),(720,1),(724,3),(728,5),(732,0),(736,2),(740,4),(744,1),(748,3),(752,5),(756,0),(760,2),(764,4),(768,1),(772,3),(776,5),(780,0),(784,2),(820,1),(824,3),(828,5),(832,0),(836,2),(840,4),(844,1),(848,3),(852,5),(856,0),(860,2),(864,4),(868,1),(872,3),(876,5),(880,0),(884,2),(888,4),(892,1),(895,3),(898,5),(893,0)]
S_C_BLUE = [(592,1),(596,3),(600,5),(604,0),(608,2),(590,5),(600,1),(606,4),(660,1),(665,2),(668,3),(672,0),(662,4),(700,0),(780,1),(785,3),(782,5),(778,0),(790,1),(830,2),(845,0),(850,2),(835,0),(855,3),(792,2),(797,4),(790,4)]
S_D_BLUE = [(263,0),(268,2),(267,3),(270,1),(270,5),(269,4),(545,0),(550,2),(553,4),(556,1),(560,3),(565,5),(570,2),(575,4),(572,0),(580,3),(585,1),(590,3),(600,2),(606,5),(610,1),(615,2),(620,0),(625,3),(630,1),(635,3),(642,3),(636,0),(640,5),(645,2),(650,5),(655,0),(660,3),(665,4),(672,3),(680,2),(688,4),(692,1),(660,1),(695,4),(765,3),(768,2),(806,0),(804,2),(808,4),(829,0),(831,1),(828,3),(827,5),(840,3),(846,5),(851,1),(847,2),(867,4),(897,3),(831,2),(834,1),
    (548,1),(552,3),(555,5),(558,0),(562,2),(566,4),(568,1),(574,5),(578,1),(582,4),(588,0),(592,5),(595,1),(598,4)]
S_D_TEAL = [(710,0),(712,1),(715,2),(716,3),(714,4),(718,5),(712,5),(720,5),(726,0),(730,1),(733,0),(735,3),(728,5),(736,5),(733,1),(725,2),(740,2)]
S_D_PURPLE = [(773,3),(779,2),(781,3),(786,3),(791,0),(791,4),(797,5),(801,0),(815,0),(823,0),(815,2),(814,3),(815,5),(836,4),(841,0),(840,2)]
S_D_YELLOW = [(650,2),(655,1),(660,2),(655,3),(665,0),(675,0),(671,0),(680,1),(682,2),(650,5),(658,4),(655,5),(683,5),(650,0)]
S_D_DARK = [(643,1),(645,3),(652,3),(657,1)]

PALETTE = {"a": "#3f9fbd", "a_mid": "#1b6f9c", "a_dark": "#0f4d78", "b": "#bd4f9b", "b_mid": "#8a2a70", "b_dark": "#5e1248",
           "c": "#fbb92b", "c_orange": "#f8961e", "c_deep": "#ee5a1c", "c_brown": "#8a2b18",
           "d": "#2480bd", "d_mid": "#1a5eaa", "d_dark": "#0d3f8e", "negro": "#10231f"}
STRIP_PALETTE = {"teal": "#17909c", "orange": "#f9a627", "dark": "#3b4a4a", "purple": "#8e2f90",
                 "maroon": "#5d2a66", "red": "#b5392e", "violet": "#8a2f8a", "grey": "#3f3f4a",
                 "brown": "#7e2b4f", "blue": "#3a3aa8", "dblue": "#1a85b8"}

PREVIEW = 1.59


def a_pixeles(puntos, grupo, x0, sx, y0, sy):
    pts = np.array(puntos, dtype=float)
    return pd.DataFrame({"x": x0 + pts[:, 0] * sx, "y": y0 + pts[:, 1] * sy, "grupo": grupo})


def tabla_mapa():
    crop_a = (170, 560 / 1568, 320, 620 / 1568)
    crop_bc = (400, 620 / 1568, 1000, 1 / 3)
    crop_d = (900, 600 / 1568, 750, 1 / 3)
    crop_sat = (1080, 1 / 3, 1230, 1 / 3)
    crop_all = (0, PREVIEW, 0, PREVIEW)
    partes = [
        a_pixeles(OUT_TEAL, "a", *crop_all), a_pixeles(A_LIGHT, "a", *crop_a),
        a_pixeles(OUT_YELLOW, "c", *crop_all), a_pixeles(C_YELLOW, "c", *crop_bc),
        a_pixeles(BC_YELLOW, "c", *crop_bc), a_pixeles(D_YELLOW, "c", *crop_d),
        a_pixeles(C_ORANGE, "c_orange", *crop_bc), a_pixeles(OUT_ORANGE, "c_orange", *crop_all),
        a_pixeles(C_DEEP, "c_deep", *crop_bc),
        a_pixeles(OUT_PINK, "b", *crop_all), a_pixeles(B_LIGHT, "b", *crop_bc),
        a_pixeles(D_PINK, "b", *crop_d), a_pixeles(SAT_PINK, "b", *crop_sat),
        a_pixeles(BC_BLUE, "d", *crop_bc), a_pixeles(D_LIGHT, "d", *crop_d),
        a_pixeles(OUT_BLUE, "d", *crop_all), a_pixeles(SAT_BLUE, "d", *crop_sat),
        a_pixeles(A_MID, "a_mid", *crop_a), a_pixeles(B_MID, "b_mid", *crop_bc), a_pixeles(D_MID, "d_mid", *crop_d),
        a_pixeles(A_DARK, "a_dark", *crop_a), a_pixeles(C_BROWN, "c_brown", *crop_bc),
        a_pixeles(B_DARK, "b_dark", *crop_bc), a_pixeles(SAT_MAROON, "b_dark", *crop_sat),
        a_pixeles(D_DARK, "d_dark", *crop_d), a_pixeles(SAT_NAVY, "d_dark", *crop_sat),
        a_pixeles(OUT_DARK, "negro", *crop_all),
    ]
    return pd.concat(partes, ignore_index=True)


def tabla_filas():
    listas = [
        (0, "teal", S_A_TEAL), (0, "orange", S_A_ORANGE), (0, "dark", S_A_DARK),
        (1, "purple", S_B_PURPLE), (1, "orange", S_B_ORANGE), (1, "maroon", S_B_DARK), (1, "red", S_B_RED),
        (1, "violet", S_B_VIOLET), (1, "grey", S_B_GREY),
        (2, "orange", S_C_ORANGE), (2, "brown", S_C_BROWN), (2, "purple", S_C_PURPLE), (2, "blue", S_C_BLUE),
        (3, "dblue", S_D_BLUE), (3, "teal", S_D_TEAL), (3, "purple", S_D_PURPLE),
        (3, "orange", S_D_YELLOW), (3, "dark", S_D_DARK),
    ]
    partes = []
    for fila, color, puntos in listas:
        pts = np.array(puntos, dtype=float)
        partes.append(pd.DataFrame({"x": pts[:, 0] * PREVIEW,
                                    "y": ROW_TOP[fila] + 4 + pts[:, 1] * 8.4,
                                    "color": color}))
    return pd.concat(partes, ignore_index=True)


def dibujar_anillos(ax):
    for i, letra in enumerate(PRACTICES):
        ax.add_patch(Circle((CORE_X[i], CORE_Y[i]), HALO_R[i], color=HALO_COLOR[i], alpha=HALO_ALPHA[i], lw=0, zorder=1))
        ax.add_patch(Circle((CORE_X[i], CORE_Y[i]), CORE_R[i], color=CORE_COLOR[i], lw=0, zorder=2))
    for i, letra in enumerate(PRACTICES):
        for r in RING_R:
            centro = (RING_X[i], RING_Y[i])
            ax.add_patch(Circle(centro, r, fill=False, ec="#e4e4e8", lw=2.2, zorder=5))
            ax.add_patch(Circle(centro, r - 7, fill=False, ec="#e4e4e8", lw=2.2, zorder=5))
            ax.add_patch(Circle(centro, r - 3.5, fill=False, ec="#8f8f94", lw=1.1, zorder=5))
        ax.text(RING_X[i], RING_Y[i], letra, color="white", fontsize=24, fontweight="bold",
                family="Lato", ha="center", va="center", zorder=6)


def dibujar_leyenda(ax):
    centro = (1293, 478)
    for r in [120, 88, 56, 25]:
        ax.add_patch(Arc(centro, 2 * r, 2 * r, theta1=220, theta2=320, color="#3c3c40", lw=2))
    ax.add_patch(Circle(centro, 9.5, color="#4a4a50", lw=0))
    ax.scatter([1362, 1364, 1337], [390, 408, 417], s=42, color="#1f74bb", lw=0)
    for texto, y in zip(["30 miles", "20", "12", "5"], [342, 374, 407, 438]):
        ax.text(1293, y, texto, fontsize=15, color="#333338", family="Lato", ha="center", va="center")
    ax.text(1115, 449, "Practice\nLocation", fontsize=15, color="#333338", family="Lato", ha="left", va="center", linespacing=1.05)
    ax.text(1436, 449, "Patient\nHome", fontsize=15, color="#333338", family="Lato", ha="center", va="center", linespacing=1.05)
    ax.text(1298, 529, "Patients Color-Coded by\nAttributed Practice", fontsize=15, color="#333338", family="Lato", ha="center", va="center", linespacing=1.05)
    ax.add_patch(FancyArrowPatch((1200, 455), (1275, 478), connectionstyle="arc3,rad=-0.2", arrowstyle="-|>", mutation_scale=20, color="#b5b5b5", lw=1.8))
    ax.add_patch(FancyArrowPatch((1400, 453), (1346, 425), connectionstyle="arc3,rad=-0.15", arrowstyle="-|>", mutation_scale=20, color="#b5b5b5", lw=1.8))


def dibujar_filas(ax):
    for i, nombre in enumerate(ROW_NAMES):
        ax.text(201, ROW_TOP[i] + 24, nombre, color=ROW_COLORS[i], fontsize=15.5, family="Lato", ha="left", va="center")
    ax.text(201, 1742, "PATIENT DISTANCE", color="#6f6f74", fontsize=15.5, family="Lato", ha="left", va="center")
    for x, texto in zip(TICK_X, TICK_LABELS):
        ax.text(x, 1743, texto, color="#6f6f74", fontsize=14, family="Lato", ha="center", va="center")
    for fila, x0, x1, color, alpha in zip(BAND_ROW, BAND_FROM, BAND_TO, BAND_COLOR, BAND_ALPHA):
        ax.barh(ROW_TOP[fila] + 25, (x1 - x0) * PREVIEW, left=x0 * PREVIEW, height=50, color=color, alpha=alpha, lw=0, zorder=2)
    sns.scatterplot(data=tabla_filas(), x="x", y="y", hue="color", palette=STRIP_PALETTE, s=42, alpha=0.92,
                    linewidth=0, legend=False, ax=ax, zorder=3)


if __name__ == '__main__':
    sns.set_theme(style="white")
    fig = plt.figure(figsize=(16.47, 24.93), dpi=100)
    ax = fig.add_axes([0, 0, 1, 1])

    sns.scatterplot(data=tabla_mapa(), x="x", y="y", hue="grupo", palette=PALETTE, s=44, alpha=0.85,
                    linewidth=0, legend=False, ax=ax, zorder=3)
    dibujar_anillos(ax)
    dibujar_leyenda(ax)
    dibujar_filas(ax)

    ax.text(824, 180, "War of attribution", fontsize=62, fontweight="semibold", family="Inter", color="black", ha="center", va="center")
    ax.text(824, 262, "Patient addresses relative to attributed PCP", fontsize=27.5, family="Inter", color="#111111", ha="center", va="center")
    ax.plot([533, 1099], [1666, 1666], color="#b9b9bd", lw=2)

    for x, letra in zip([695, 743, 788, 838, 888, 920, 955], "ARCADIA"):
        ax.text(x, 2311, letra, fontsize=41, family="Lato", color="#15132b", ha="center", va="center")
    ax.text(977, 2289, "TM", fontsize=6, family="Lato", fontweight="bold", color="#15132b", ha="center", va="center")
    ax.text(828, 2386, "© 2017 arcadia.io", fontsize=13, family="Inter", color="#111111", ha="center", va="center")

    ax.set_xlim(0, 1647)
    ax.set_ylim(2493, 0)
    ax.axis("off")
    fig.savefig("out.png", dpi=100)
